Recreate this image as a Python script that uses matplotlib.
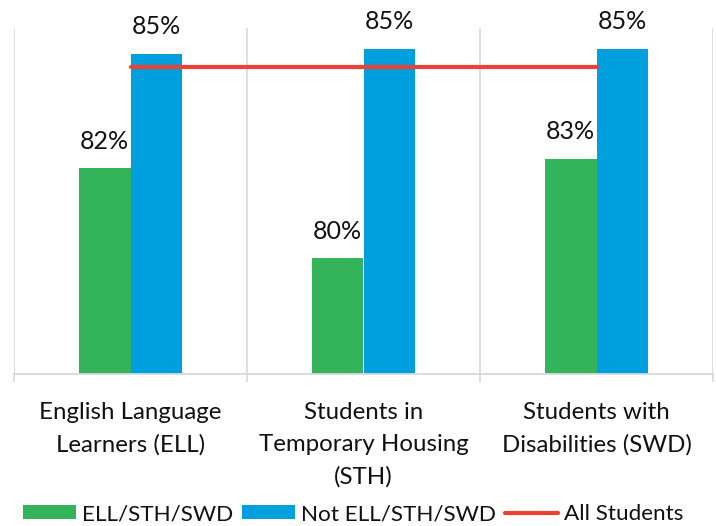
import numpy as np
import matplotlib.pyplot as plt

# ==================== DATA ====================
categories = ['English Language\nLearners (ELL)',
              'Students in\nTemporary Housing\n(STH)',
              'Students with\nDisabilities (SWD)']
group_vals = [82.38, 80.38, 82.59]        # ELL/STH/SWD
not_group_vals = [84.93, 85.04, 85.04]    # Not ELL/STH/SWD
all_students = [84.63, 84.63, 84.63]      # All Students
series_names = ['ELL/STH/SWD', 'Not ELL/STH/SWD', 'All Students']
# ==============================================

green = '#33B45A'
blue = '#009FDD'
red = '#EE4136'
grid_c = '#D9D9D9'

plt.rcParams['font.family'] = ['Lato', 'DejaVu Sans']

fig = plt.figure(figsize=(7.16, 5.26), dpi=100)
ax = fig.add_axes([14 / 716, 1 - 374 / 526, 699 / 716, 346 / 526])

x = np.arange(len(categories))
w = 0.223

b1 = ax.bar(x - w / 2, group_vals, w, color=green, label=series_names[0], zorder=2)
b2 = ax.bar(x + w / 2, not_group_vals, w, color=blue, label=series_names[1], zorder=2)
ln, = ax.plot(x, all_students, color=red, lw=3, solid_capstyle='round',
              label=series_names[2], zorder=3)

# data labels
for xs, vals in ((x - w / 2, group_vals), (x + w / 2, not_group_vals)):
    for xi, v in zip(xs, vals):
        ax.annotate(f'{v:.0f}%', (xi, v), xytext=(0, 14), textcoords='offset points',
                    ha='center', va='baseline', fontsize=18, color='#111111')

ax.set_xlim(-0.5, 2.5)
ax.set_ylim(77.8, 85.5)
ax.set_yticks([])

# category boundaries as gridlines / tick marks
ax.set_xticks(x)
ax.set_xticklabels(categories, fontsize=17.3, linespacing=1.65, color='#111111')
ax.set_xticks(np.arange(-0.5, 3, 1), minor=True)
ax.tick_params(axis='x', which='major', length=0, pad=20)
ax.tick_params(axis='x', which='minor', length=6, width=1.2, color=grid_c)
ax.grid(axis='x', which='minor', color=grid_c, lw=1.2, zorder=0)

for s in ['left', 'right', 'top']:
    ax.spines[s].set_visible(False)
ax.spines['bottom'].set_color(grid_c)
ax.spines['bottom'].set_linewidth(1.3)

fig.legend(handles=[b1, b2, ln], loc='lower center', bbox_to_anchor=(0.493, -0.035),
           ncol=3, frameon=False, fontsize=16.2, handlelength=2.35, handleheight=0.6,
           handletextpad=0.27, columnspacing=0.4, labelcolor='#111111')

plt.savefig('out.png', dpi=100)
